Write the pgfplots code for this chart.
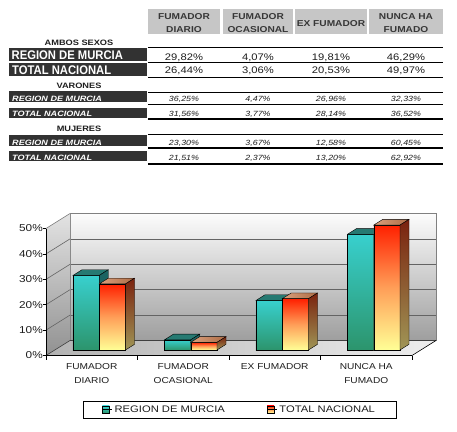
\documentclass[border=0pt]{standalone}
\usepackage{fontspec}
\setmainfont{Liberation Sans}[FakeStretch=1.18]
\newfontfamily\narrowfont{Liberation Sans}[FakeStretch=0.9]
\usepackage{pgfplots}
\usepackage{pgfplotstable}
\pgfplotsset{compat=1.18}

\definecolor{hdrgray}{RGB}{198,198,198}
\definecolor{hdrtext}{RGB}{55,55,55}
\definecolor{cellgray}{RGB}{50,50,50}
\definecolor{tealtop}{RGB}{56,208,206}
\definecolor{tealbot}{RGB}{44,148,108}
\definecolor{tealtopface}{RGB}{38,122,114}
\definecolor{tealside}{RGB}{28,100,98}
\definecolor{redtop}{RGB}{255,32,0}
\definecolor{redmid}{RGB}{255,158,88}
\definecolor{redbot}{RGB}{255,255,150}
\definecolor{redtopface}{RGB}{205,128,82}
\definecolor{redsidetop}{RGB}{122,34,14}
\definecolor{redsidebot}{RGB}{160,150,86}
\definecolor{walltop}{RGB}{252,252,252}
\definecolor{wallbot}{RGB}{158,158,158}
\definecolor{floorleft}{RGB}{178,178,178}
\definecolor{floorright}{RGB}{238,238,238}
\definecolor{gridgray}{RGB}{100,100,100}
\definecolor{labtext}{RGB}{30,30,30}

% corners of a unit face, mapped onto the bar faces below
\pgfplotstableread{
a b
0 0
1 0
1 1
0 1
}\facepts

\tikzset{
  murciafront/.style={top color=tealtop, bottom color=tealbot},
  murciatop/.style={fill=tealtopface},
  murciaside/.style={fill=tealside},
  totalfront/.style={top color=redtop, bottom color=redbot, middle color=redmid},
  totaltop/.style={left color=redtopface!75!white, right color=redtopface!85!black},
  totalside/.style={top color=redsidetop, bottom color=redsidebot},
}

% #1 category, #2 value, #3 bar shift, #4 front, #5 top, #6 side
\newcommand\onebar[6]{%
  \addplot[ybar, bar width=0.287, bar shift=#3, draw=black, line width=0.4pt, #4, forget plot]
    coordinates {(#1,#2)};
  \addplot[draw=black, line width=0.4pt, #5, forget plot]
    table[x expr={#1+(#3)-0.1435+\thisrow{a}*0.287+\thisrow{b}*0.0984},
          y expr={#2+\thisrow{b}*2.28}] {\facepts} -- cycle;
  \addplot[draw=black, line width=0.4pt, #6, forget plot]
    table[x expr={#1+(#3)+0.1435+\thisrow{b}*0.0984},
          y expr={\thisrow{a}*#2+\thisrow{b}*2.28}] {\facepts} -- cycle;
}

\newcommand\valrow[6]{%
  \node[#2] at (184,#1) {#3};
  \node[#2] at (258,#1) {#4};
  \node[#2] at (331,#1) {#5};
  \node[#2] at (406,#1) {#6};
}

\begin{document}
\begin{tikzpicture}
\useasboundingbox (0,0) rectangle (457pt,-431pt);
\fill[white] (0,0) rectangle (457pt,-431pt);

%% table
\begin{scope}[x=1pt,y=-1pt,
  hdr/.style={anchor=base, inner sep=0pt, text=hdrtext, font=\fontsize{8.6}{10}\selectfont\bfseries},
  sect/.style={anchor=base, inner sep=0pt, text=labtext, font=\fontsize{7.8}{9}\selectfont\bfseries},
  biglbl/.style={anchor=base west, inner sep=0pt, text=white, font=\narrowfont\fontsize{12.5}{14}\selectfont\bfseries},
  smalllbl/.style={anchor=base west, inner sep=0pt, text=white, font=\fontsize{7.7}{9}\selectfont\bfseries\itshape},
  bigval/.style={anchor=base, inner sep=0pt, text=labtext, font=\fontsize{9.5}{11}\selectfont},
  smallval/.style={anchor=base, inner sep=0pt, text=labtext, font=\fontsize{7.5}{9}\selectfont\itshape}]
  \fill[hdrgray] (148,9) rectangle (220,34);
  \fill[hdrgray] (223,9) rectangle (293,34);
  \fill[hdrgray] (295,9) rectangle (367,34);
  \fill[hdrgray] (369,9) rectangle (443,34);
  \node[hdr] at (184,19.3) {FUMADOR};
  \node[hdr] at (184,32.3) {DIARIO};
  \node[hdr] at (258,19.3) {FUMADOR};
  \node[hdr] at (258,32.3) {OCASIONAL};
  \node[hdr] at (331,26.5) {EX FUMADOR};
  \node[hdr] at (406,19.3) {NUNCA HA};
  \node[hdr] at (406,32.3) {FUMADO};

  \node[sect] at (79,45.5) {AMBOS SEXOS};
  \node[sect] at (79,88.3) {VARONES};
  \node[sect] at (79,131.7) {MUJERES};

  \fill[cellgray] (9,47.7) rectangle (147,61);
  \fill[cellgray] (9,63.3) rectangle (147,76);
  \fill[cellgray] (9,90.7) rectangle (147,102);
  \fill[cellgray] (9,108) rectangle (147,118);
  \fill[cellgray] (9,135) rectangle (147,146);
  \fill[cellgray] (9,151) rectangle (147,161);

  \node[biglbl] at (11.5,59.5) {REGION DE MURCIA};
  \node[biglbl] at (12,74.5) {TOTAL NACIONAL};
  \node[smalllbl] at (12,101) {REGION DE MURCIA};
  \node[smalllbl] at (12,116.5) {TOTAL NACIONAL};
  \node[smalllbl] at (12,145) {REGION DE MURCIA};
  \node[smalllbl] at (12,160) {TOTAL NACIONAL};

  \draw[line width=1pt] (148,47.7) -- (443,47.7);
  \draw[line width=1pt] (148,62.3) -- (443,62.3);
  \draw[line width=1pt] (148,77) -- (443,77);
  \draw[line width=1pt] (148,92.3) -- (443,92.3);
  \draw[line width=1pt] (148,104.3) -- (443,104.3);
  \draw[line width=2pt] (148,119) -- (443,119);
  \draw[line width=1pt] (148,134.3) -- (443,134.3);
  \draw[line width=2pt] (148,148.3) -- (443,148.3);
  \draw[line width=2pt] (148,164) -- (443,164);

  \valrow{60}{bigval}{29,82\%}{4,07\%}{19,81\%}{46,29\%}
  \valrow{73.5}{bigval}{26,44\%}{3,06\%}{20,53\%}{49,97\%}
  \valrow{101.5}{smallval}{36,25\%}{4,47\%}{26,96\%}{32,33\%}
  \valrow{116.5}{smallval}{31,56\%}{3,77\%}{28,14\%}{36,52\%}
  \valrow{145.5}{smallval}{23,30\%}{3,67\%}{12,58\%}{60,45\%}
  \valrow{160.5}{smallval}{21,51\%}{2,37\%}{13,20\%}{62,92\%}
\end{scope}

%% back wall
\begin{axis}[at={(70pt,-340.5pt)}, anchor=south west, scale only axis,
  width=366pt, height=127pt,
  xmin=-0.5, xmax=3.5, ymin=0, ymax=50,
  xtick=\empty, ytick={10,20,30,40}, yticklabel={}, major tick length=0pt,
  ymajorgrids, grid style={gridgray, line width=0.6pt},
  axis line style={gray, line width=0.6pt},
  axis background/.style={top color=walltop, bottom color=wallbot}]
\addplot[draw=none, forget plot] coordinates {(0,0)};
\end{axis}

%% front plane: side wall, floor, axes, legend
\begin{axis}[at={(46pt,-355.5pt)}, anchor=south west, scale only axis,
  width=366pt, height=127pt,
  xmin=-0.5, xmax=3.5, ymin=0, ymax=50, clip=false, axis on top,
  axis x line=bottom, axis y line=left,
  axis line style={-, black, line width=0.6pt},
  tick align=outside, major tick length=3pt, minor tick length=4pt,
  xtick={0,1,2,3},
  xticklabels={{FUMADOR\\DIARIO},{FUMADOR\\OCASIONAL},{EX FUMADOR},{NUNCA HA\\FUMADO}},
  minor xtick={-0.5,0.5,1.5,2.5,3.5},
  major x tick style={draw=none},
  minor x tick style={black, line width=0.6pt},
  ytick={0,10,20,30,40,50},
  yticklabels={0\%,10\%,20\%,30\%,40\%,50\%},
  y tick style={black, line width=0.6pt},
  xticklabel style={align=center, font=\fontsize{8.6}{14}\selectfont, text=labtext, inner sep=0pt, yshift=-5pt},
  yticklabel style={font=\fontsize{10}{12}\selectfont, text=labtext, inner sep=0pt},
  legend style={at={(0.5287,-0.355)}, anchor=north, legend columns=2,
    draw=black, line width=0.6pt, font=\fontsize{9.5}{11}\selectfont, text=labtext,
    inner xsep=19pt, inner ysep=2.5pt,
    /tikz/every even column/.append style={column sep=40pt}},
  legend cell align=left]
\addplot[draw=none, top color=walltop!90!black, bottom color=wallbot!92!black, forget plot]
  coordinates {(-0.5,0) (-0.5,50) (-0.2377,55.906) (-0.2377,5.906)} -- cycle;
\addplot[draw=none, left color=floorleft, right color=floorright, forget plot]
  coordinates {(-0.5,0) (3.5,0) (3.7623,5.906) (-0.2377,5.906)} -- cycle;
\addplot[gridgray, line width=0.6pt, forget plot] coordinates {(-0.5,10) (-0.2377,15.906)};
\addplot[gridgray, line width=0.6pt, forget plot] coordinates {(-0.5,20) (-0.2377,25.906)};
\addplot[gridgray, line width=0.6pt, forget plot] coordinates {(-0.5,30) (-0.2377,35.906)};
\addplot[gridgray, line width=0.6pt, forget plot] coordinates {(-0.5,40) (-0.2377,45.906)};
\addplot[gray, line width=0.6pt, forget plot] coordinates {(-0.5,50) (-0.2377,55.906)};
\addplot[black!75, line width=0.6pt, forget plot] coordinates {(-0.5,0) (-0.2377,5.906) (3.7623,5.906)};
\addplot[black, line width=0.6pt, forget plot] coordinates {(3.5,0) (3.7623,5.906)};
\addlegendimage{legend image code/.code={\draw[black, line width=0.3pt, murciafront] (0pt,-3.5pt) rectangle (7pt,3.5pt); \path (0pt,0pt) -- (10pt,0pt);}}
\addlegendentry{REGION DE MURCIA}
\addlegendimage{legend image code/.code={\draw[black, line width=0.3pt, totalfront] (0pt,-3.5pt) rectangle (7pt,3.5pt); \path (0pt,0pt) -- (10pt,0pt);}}
\addlegendentry{TOTAL NACIONAL}
\end{axis}

%% bars, set a little behind the front plane
\begin{axis}[at={(53.5pt,-350pt)}, anchor=south west, scale only axis,
  width=366pt, height=125pt,
  xmin=-0.5, xmax=3.5, ymin=0, ymax=50, hide axis, clip=false]
\onebar{0}{29.82}{-0.1435}{murciafront}{murciatop}{murciaside}
\onebar{0}{26.44}{0.1435}{totalfront}{totaltop}{totalside}
\onebar{1}{4.07}{-0.1435}{murciafront}{murciatop}{murciaside}
\onebar{1}{3.06}{0.1435}{totalfront}{totaltop}{totalside}
\onebar{2}{19.81}{-0.1435}{murciafront}{murciatop}{murciaside}
\onebar{2}{20.53}{0.1435}{totalfront}{totaltop}{totalside}
\onebar{3}{46.29}{-0.1435}{murciafront}{murciatop}{murciaside}
\onebar{3}{49.97}{0.1435}{totalfront}{totaltop}{totalside}
\end{axis}
\end{tikzpicture}
\end{document}
